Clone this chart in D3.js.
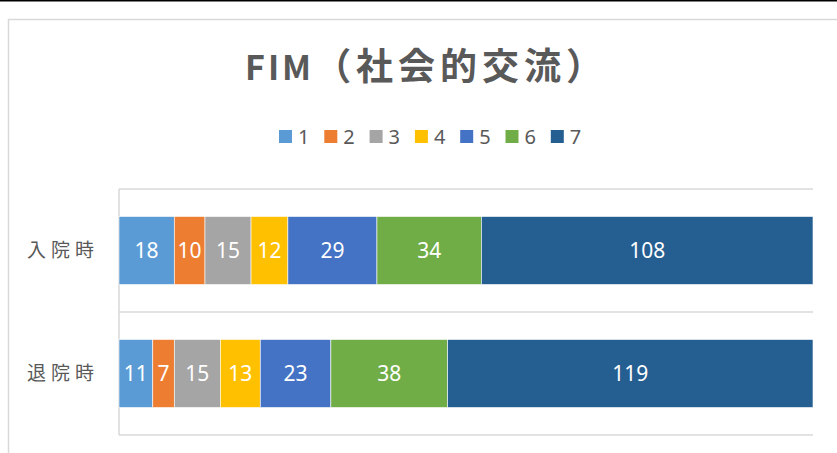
<!DOCTYPE html>
<html>
<head>
<meta charset="utf-8">
<script src="https://cdn.jsdelivr.net/npm/d3@7"></script>
<style>
  body { margin: 0; background: #fff; }
  svg { display: block; }
</style>
</head>
<body>
<div id="chart"></div>
<script>
// Chart data
const categories = ["入院時", "退院時"];
const seriesNames = ["1", "2", "3", "4", "5", "6", "7"];
const admission = [18, 10, 15, 12, 29, 34, 108];
const discharge = [11, 7, 15, 13, 23, 38, 119];
const seriesColors = ["#5B9BD5", "#ED7D31", "#A5A5A5", "#FFC000", "#4472C4", "#70AD47", "#255E91"];

const width = 837,
      height = 453;

const svg = d3.select("#chart")
  .append("svg")
    .attr("width", width)
    .attr("height", height);

// top black line and chart area border
svg.append("rect")
  .attr("x", 0).attr("y", 0)
  .attr("width", width).attr("height", 1.5)
  .attr("fill", "#000");

svg.append("rect")
  .attr("x", 8.5).attr("y", 19.5)
  .attr("width", 900).attr("height", 500)
  .attr("fill", "none")
  .attr("stroke", "#d9d9d9")
  .attr("stroke-width", 1.5);

// Plot area
const plot = { left: 119, right: 813, top: 189, bottom: 435 };

const rows = categories.map((c, i) => {
  const vals = i === 0 ? admission : discharge;
  let acc = 0;
  return {
    name: c,
    segs: vals.map((v, j) => {
      const s = { key: seriesNames[j], value: v, x0: acc, x1: acc + v, color: seriesColors[j] };
      acc += v;
      return s;
    }),
    total: acc
  };
});

const x = d3.scaleLinear()
  .domain([0, d3.max(rows, r => r.total)])
  .range([plot.left, plot.right]);

const gap = 0.447;
const y = d3.scaleBand()
  .domain(categories)
  .range([plot.top, plot.bottom])
  .paddingInner(gap)
  .paddingOuter(gap / 2);

// category gridlines
const step = y.step();
svg.append("g")
  .selectAll("line")
  .data(d3.range(categories.length + 1))
  .join("line")
    .attr("x1", plot.left)
    .attr("x2", plot.right)
    .attr("y1", i => plot.top + i * step)
    .attr("y2", i => plot.top + i * step)
    .attr("stroke", "#d9d9d9")
    .attr("stroke-width", 1.5);

svg.append("line")
  .attr("x1", plot.left).attr("x2", plot.left)
  .attr("y1", plot.top).attr("y2", plot.bottom)
  .attr("stroke", "#d9d9d9")
  .attr("stroke-width", 1.5);

// bars
const rowG = svg.append("g")
  .selectAll("g")
  .data(rows)
  .join("g");

rowG.selectAll("rect")
  .data(d => d.segs.map(s => ({ ...s, cat: d.name })))
  .join("rect")
    .attr("x", d => x(d.x0))
    .attr("width", d => x(d.x1) - x(d.x0))
    .attr("y", d => y(d.cat))
    .attr("height", y.bandwidth())
    .attr("fill", d => d.color)
    .attr("stroke", "#fff")
    .attr("stroke-width", 0.6);

rowG.selectAll("text")
  .data(d => d.segs.map(s => ({ ...s, cat: d.name })))
  .join("text")
    .attr("x", d => (x(d.x0) + x(d.x1)) / 2)
    .attr("y", d => y(d.cat) + y.bandwidth() / 2)
    .attr("dy", "0.36em")
    .attr("text-anchor", "middle")
    .attr("fill", "#fff")
    .style("font-family", "'Noto Sans', sans-serif")
    .style("font-size", "21px")
    .text(d => d.value);

// category labels
svg.append("g")
  .selectAll("text")
  .data(categories)
  .join("text")
    .attr("x", 27)
    .attr("y", d => y(d) + y.bandwidth() / 2)
    .attr("dy", "0.36em")
    .attr("fill", "#595959")
    .style("font-family", "'Noto Sans CJK JP', sans-serif")
    .style("font-size", "19px")
    .style("letter-spacing", "5px")
    .text(d => d);

// title
const title = svg.append("text")
  .attr("x", 245)
  .attr("y", 80)
  .attr("fill", "#595959")
  .style("font-family", "'Noto Sans CJK JP', sans-serif")
  .style("font-weight", "bold");

title.append("tspan")
  .style("font-size", "34px")
  .style("letter-spacing", "3px")
  .text("FIM");

title.append("tspan")
  .style("font-size", "37px")
  .style("letter-spacing", "5px")
  .text("（社会的交流）");

// legend
const legend = svg.append("g")
  .selectAll("g")
  .data(seriesNames)
  .join("g")
    .attr("transform", (d, i) => `translate(${279 + i * 45.3},130)`);

legend.append("rect")
  .attr("width", 13)
  .attr("height", 13)
  .attr("fill", (d, i) => seriesColors[i]);

legend.append("text")
  .attr("x", 19)
  .attr("y", 6.5)
  .attr("dy", "0.36em")
  .attr("fill", "#595959")
  .style("font-family", "'Noto Sans', sans-serif")
  .style("font-size", "20px")
  .text(d => d);
</script>
</body>
</html>
